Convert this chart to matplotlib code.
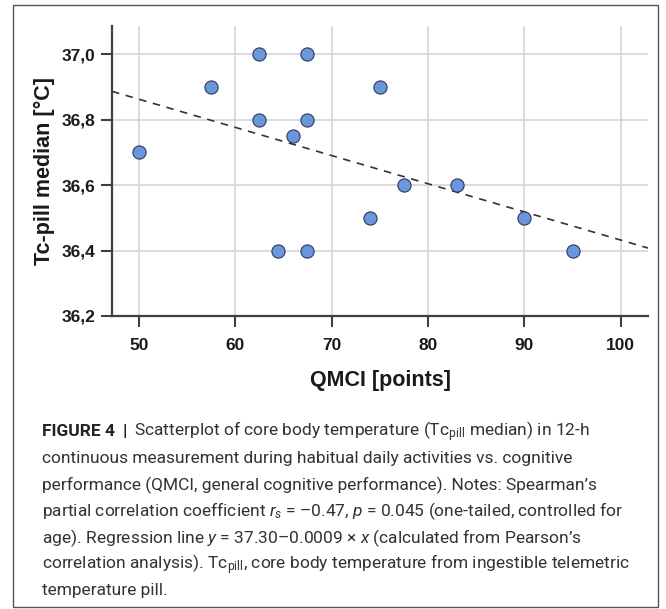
import matplotlib
matplotlib.use("Agg")
import matplotlib.pyplot as plt
import numpy as np
from matplotlib.patches import Rectangle

# ---- data ----
qmci = [50, 57.5, 62.5, 67.5, 62.5, 67.5, 66, 75, 77.5, 83, 74, 90, 64.5, 67.5, 95]
tc_median = [36.70, 36.90, 37.00, 37.00, 36.80, 36.80, 36.75, 36.90, 36.60, 36.60, 36.50, 36.50, 36.40, 36.40, 36.40]
reg_intercept = 37.293
reg_slope = -0.00861
x_ticks = [50, 60, 70, 80, 90, 100]
y_ticks = [36.2, 36.4, 36.6, 36.8, 37.0]
y_tick_labels = ["36,2", "36,4", "36,6", "36,8", "37,0"]

caption_lines = [
    r"Scatterplot of core body temperature (Tc$_{\mathrm{pill}}$ median) in 12-h",
    r"continuous measurement during habitual daily activities vs. cognitive",
    r"performance (QMCI, general cognitive performance). Notes: Spearman’s",
    r"partial correlation coefficient $r_{s}$ = –0.47, $p$ = 0.045 (one-tailed, controlled for",
    r"age). Regression line $y$ = 37.30–0.0009 × $x$ (calculated from Pearson’s",
    r"correlation analysis). Tc$_{\mathrm{pill}}$, core body temperature from ingestible telemetric",
    r"temperature pill.",
]

plt.rcParams['font.family'] = ['Liberation Sans', 'DejaVu Sans']
plt.rcParams['mathtext.fontset'] = 'custom'
plt.rcParams['mathtext.rm'] = 'Roboto'
plt.rcParams['mathtext.it'] = 'Roboto:italic'
plt.rcParams['mathtext.bf'] = 'Roboto:bold'

W, H = 666, 609
fig = plt.figure(figsize=(W / 100, H / 100), dpi=100)

# outer frame
fig.patches.append(Rectangle((13 / W, 1 - 607 / H), (658 - 13) / W, (607 - 5) / H,
                             transform=fig.transFigure, fill=False,
                             edgecolor="#555555", linewidth=1.0))

ax = fig.add_axes([112 / W, 1 - 316 / H, (648 - 112) / W, (316 - 26) / H])
ax.set_xlim(47.23, 102.83)
ax.set_ylim(36.2, 37.086)

ax.grid(True, color="#d6d6d6", linewidth=1.2)
ax.set_axisbelow(True)

xl = np.array(ax.get_xlim())
ax.plot(xl, reg_intercept + reg_slope * xl, linestyle=(0, (4.5, 4)), color="#333333",
        linewidth=1.2, zorder=2)

ax.scatter(qmci, tc_median, s=90, color="#6a95df", edgecolors="#2e3a55",
           linewidths=0.8, zorder=3)

for s in ["top", "right"]:
    ax.spines[s].set_visible(False)
for s in ["left", "bottom"]:
    ax.spines[s].set_color("#404040")
    ax.spines[s].set_linewidth(1.6)

ax.set_xticks(x_ticks)
ax.set_yticks(y_ticks)
ax.set_yticklabels(y_tick_labels)
ax.tick_params(axis="both", length=8, width=1.5, color="#404040",
               labelsize=12.5, labelcolor="#1a1a1a", pad=4)
ax.tick_params(axis="x", pad=8)
for lab in ax.get_xticklabels() + ax.get_yticklabels():
    lab.set_fontweight("bold")

ax.set_xlabel("QMCI [points]", fontsize=15.5, fontweight="bold", color="#1a1a1a", labelpad=12)
ax.set_ylabel("Tc-pill median [°C]", fontsize=15.5, fontweight="bold", color="#1a1a1a", labelpad=5)

# caption
x0 = 42 / W
y_first = 432
spacing = 26.5
cap_font = ['Roboto', 'DejaVu Sans']
cap_size = 12.5
fig.canvas.draw()
renderer = fig.canvas.get_renderer()
for i, line in enumerate(caption_lines):
    yy = 1 - (y_first + i * spacing) / H
    if i == 0:
        t1 = fig.text(x0, yy, "FIGURE 4", fontsize=cap_size, fontweight="bold", color="#222222",
                      family=cap_font, va="center", ha="left")
        bb = t1.get_window_extent(renderer)
        t2 = fig.text(bb.x1 / W + 8 / W, yy, "|", fontsize=cap_size, fontweight="bold", color="#222222",
                      family=cap_font, va="center", ha="left")
        bb2 = t2.get_window_extent(renderer)
        fig.text(bb2.x1 / W + 7 / W, yy, line, fontsize=cap_size, fontweight="normal", color="#333333",
                 family=cap_font, va="center", ha="left")
    else:
        fig.text(x0, yy, line, fontsize=cap_size, fontweight="normal", color="#333333",
                 family=cap_font, va="center", ha="left")

fig.savefig("out.png", dpi=100)
